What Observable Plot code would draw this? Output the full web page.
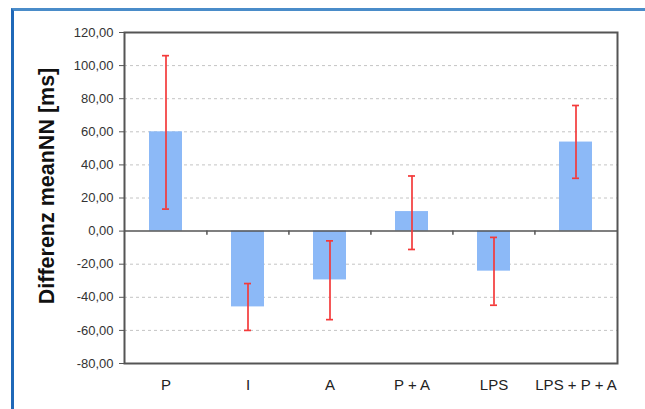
<!DOCTYPE html>
<html>
<head>
<meta charset="utf-8">
<script src="https://cdn.jsdelivr.net/npm/d3@7"></script>
<script src="https://cdn.jsdelivr.net/npm/@observablehq/plot@0.6"></script>
<style>
  html, body { margin: 0; padding: 0; background: #fff; }
  #wrap { position: relative; width: 645px; height: 409px; overflow: hidden; background: #fff; }
  #border { position: absolute; left: 11px; top: 8px; width: 700px; height: 500px;
            border-top: 3px solid #4a8cc9; border-left: 3px solid #1f68b8; box-sizing: border-box; }
  #chart { position: absolute; left: 0; top: 0; }
  svg { font-family: Arial, "Liberation Sans", sans-serif; }
</style>
</head>
<body>
<div id="wrap"><div id="border"></div><div id="chart"></div></div>
<script>
const categories = ["P", "I", "A", "P + A", "LPS", "LPS + P + A"];
const means      = [60.0, -45.8, -29.5, 11.8, -24.2, 53.8];
const errLow     = [13.3, -60.0, -53.5, -11.1, -44.8, 31.9];
const errHigh    = [106.0, -31.7, -5.9, 33.3, -3.8, 75.9];
const yTicks     = [-80, -60, -40, -20, 0, 20, 40, 60, 80, 100, 120];
const gridTicks  = [-60, -40, -20, 20, 40, 60, 80, 100];
const yTitle     = "Differenz meanNN [ms]";

const data = categories.map((c, i) => ({cat: c, v: means[i], lo: errLow[i], hi: errHigh[i]}));
const fmt = d => d.toFixed(2).replace(".", ",");

const W = 645, H = 409, mL = 124, mR = 28, mT = 32, mB = 46;
const step = (W - mL - mR) / categories.length;

const chart = Plot.plot({
  width: W, height: H,
  marginLeft: mL, marginRight: mR, marginTop: mT, marginBottom: mB,
  style: {background: "transparent", fontFamily: "Arial, 'Liberation Sans', sans-serif"},
  x: {domain: categories, paddingInner: 0.6, paddingOuter: 0.3, label: null},
  y: {domain: [-80, 120], label: null},
  marks: [
    Plot.gridY(gridTicks, {stroke: "#c4c4c4", strokeOpacity: 1, strokeDasharray: "3,3", strokeWidth: 1}),
    Plot.barY(data, {x: "cat", y: "v", fill: "#8cb9f7"}),
    Plot.ruleY([0], {stroke: "#555", strokeWidth: 1.5}),
    Plot.ruleX(categories.slice(1), {x: d => d, y1: 0, y2: -2.5, dx: -step / 2, stroke: "#555", strokeWidth: 1.5}),
    Plot.ruleX(data, {x: "cat", y1: "lo", y2: "hi", stroke: "#f43a3a", strokeWidth: 1.7}),
    Plot.tickY(data, {x: "cat", y: "lo", stroke: "#f43a3a", strokeWidth: 1.7, insetLeft: 13, insetRight: 13}),
    Plot.tickY(data, {x: "cat", y: "hi", stroke: "#f43a3a", strokeWidth: 1.7, insetLeft: 13, insetRight: 13}),
    Plot.frame({stroke: "#555", strokeWidth: 2}),
    Plot.axisY(yTicks, {tickFormat: fmt, tickSize: 5, tickPadding: 6, fontSize: 13, color: "#333", stroke: "#555", label: null}),
    Plot.axisX({tickSize: 0, tickPadding: 16, fontSize: 15, color: "#222", label: null}),
    Plot.text([yTitle], {text: d => d, frameAnchor: "left", textAnchor: "middle", dx: -77, dy: -12, rotate: -90,
      fontSize: 21.5, fontWeight: "bold", fill: "#111"})
  ]
});
document.getElementById("chart").appendChild(chart);
</script>
</body>
</html>
